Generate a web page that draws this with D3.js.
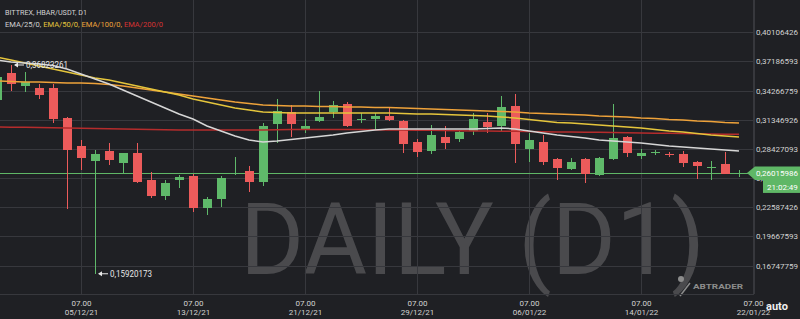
<!DOCTYPE html>
<html><head><meta charset="utf-8">
<script src="https://cdn.jsdelivr.net/npm/d3@7"></script>
<style>
html,body{margin:0;padding:0;background:#1f2024;overflow:hidden;}
svg{display:block;font-family:Roboto,"Noto Sans",sans-serif;}
</style></head><body>
<svg id="c" width="800" height="319"></svg>
<script>
const dates = ["2021-11-29","2021-11-30","2021-12-01","2021-12-02","2021-12-03","2021-12-04","2021-12-05","2021-12-06","2021-12-07","2021-12-08","2021-12-09","2021-12-10","2021-12-11","2021-12-12","2021-12-13","2021-12-14","2021-12-15","2021-12-16","2021-12-17","2021-12-18","2021-12-19","2021-12-20","2021-12-21","2021-12-22","2021-12-23","2021-12-24","2021-12-25","2021-12-26","2021-12-27","2021-12-28","2021-12-29","2021-12-30","2021-12-31","2022-01-01","2022-01-02","2022-01-03","2022-01-04","2022-01-05","2022-01-06","2022-01-07","2022-01-08","2022-01-09","2022-01-10","2022-01-11","2022-01-12","2022-01-13","2022-01-14","2022-01-15","2022-01-16","2022-01-17","2022-01-18","2022-01-19","2022-01-20","2022-01-21"];
const opens = [0.3332,0.3602,0.3472,0.3452,0.3452,0.3152,0.2872,0.2721,0.2821,0.2701,0.2801,0.2531,0.2371,0.2531,0.2571,0.2251,0.2341,0.2591,0.2621,0.2511,0.3092,0.3212,0.3042,0.3122,0.3212,0.3292,0.3137,0.3142,0.3172,0.3122,0.2912,0.2821,0.2962,0.2942,0.3022,0.3112,0.3072,0.3272,0.2842,0.2912,0.2741,0.2641,0.2741,0.2581,0.2741,0.2962,0.2771,0.2806,0.2796,0.2791,0.2711,0.2656,0.2691,0.2596];
const highs = [0.3592,0.36823261,0.3612,0.3492,0.3492,0.3162,0.2932,0.2831,0.2902,0.2801,0.2902,0.2611,0.2531,0.2581,0.2591,0.2361,0.2571,0.2761,0.2671,0.3102,0.3342,0.3282,0.3142,0.3422,0.3322,0.3312,0.3202,0.3202,0.3252,0.3132,0.2942,0.3082,0.3072,0.3032,0.3202,0.3202,0.3372,0.3392,0.3002,0.2982,0.2751,0.2751,0.2751,0.2761,0.3292,0.2972,0.2842,0.2831,0.2811,0.2821,0.2721,0.2721,0.2811,0.2631];
const lows = [0.3312,0.3422,0.3412,0.3342,0.3102,0.2241,0.2631,0.15920173,0.2681,0.2601,0.2501,0.2351,0.2331,0.2451,0.2211,0.2181,0.2261,0.2581,0.2411,0.2471,0.2902,0.2962,0.3002,0.3112,0.3152,0.3062,0.3102,0.3032,0.3122,0.2801,0.2761,0.2791,0.2841,0.2912,0.2982,0.3002,0.3022,0.2701,0.2711,0.2681,0.2531,0.2631,0.2501,0.2571,0.2731,0.2761,0.2741,0.2781,0.2761,0.2661,0.2541,0.2531,0.2591,0.2561];
const closes = [0.3562,0.3492,0.3512,0.3382,0.3142,0.2831,0.2751,0.2791,0.2731,0.2801,0.2511,0.2371,0.2501,0.2561,0.2251,0.2341,0.2551,0.2601,0.2511,0.3072,0.3222,0.3092,0.3072,0.3162,0.3282,0.3072,0.3142,0.3172,0.3132,0.2892,0.2811,0.2982,0.2902,0.3012,0.3142,0.3062,0.3262,0.2892,0.2932,0.2711,0.2651,0.2711,0.2591,0.2751,0.2952,0.2801,0.2801,0.2811,0.2786,0.2701,0.2671,0.2661,0.2591,0.26015986];
const ema25 = [0.3732,0.3712,0.3702,0.3692,0.3677,0.3642,0.3592,0.3542,0.3492,0.3432,0.3372,0.3312,0.3252,0.3192,0.3142,0.3072,0.3022,0.2972,0.2932,0.2912,0.2922,0.2937,0.2952,0.2967,0.2982,0.3002,0.3017,0.3032,0.3042,0.3042,0.3042,0.3042,0.3042,0.3042,0.3042,0.3047,0.3052,0.3042,0.3022,0.3002,0.2982,0.2967,0.2952,0.2932,0.2922,0.2912,0.2902,0.2887,0.2872,0.2862,0.2852,0.2842,0.2832,0.2822];
const ema50 = [0.3762,0.3732,0.3702,0.3672,0.3642,0.3612,0.3582,0.3552,0.3532,0.3502,0.3472,0.3442,0.3412,0.3382,0.3342,0.3312,0.3282,0.3252,0.3232,0.3212,0.3207,0.3202,0.3202,0.3202,0.3202,0.3202,0.3202,0.3202,0.3202,0.3197,0.3192,0.3192,0.3187,0.3182,0.3177,0.3172,0.3162,0.3152,0.3137,0.3122,0.3107,0.3102,0.3092,0.3082,0.3072,0.3062,0.3052,0.3037,0.3022,0.3012,0.2997,0.2982,0.2972,0.2962];
const ema100 = [0.3522,0.3517,0.3512,0.3512,0.3507,0.3502,0.3502,0.3497,0.3487,0.3472,0.3452,0.3432,0.3412,0.3392,0.3372,0.3352,0.3332,0.3312,0.3297,0.3282,0.3277,0.3272,0.3272,0.3267,0.3267,0.3262,0.3262,0.3257,0.3257,0.3252,0.3247,0.3242,0.3237,0.3232,0.3227,0.3222,0.3217,0.3212,0.3202,0.3197,0.3192,0.3187,0.3182,0.3172,0.3167,0.3162,0.3152,0.3147,0.3137,0.3132,0.3122,0.3117,0.3107,0.3102];
const ema200 = [0.3062,0.3060,0.3058,0.3056,0.3054,0.3052,0.3049,0.3047,0.3044,0.3042,0.3039,0.3037,0.3035,0.3032,0.3032,0.3032,0.3032,0.3032,0.3032,0.3032,0.3034,0.3036,0.3037,0.3037,0.3037,0.3037,0.3037,0.3035,0.3032,0.3032,0.3030,0.3028,0.3026,0.3024,0.3022,0.3022,0.3020,0.3018,0.3016,0.3014,0.3012,0.3012,0.3010,0.3008,0.3006,0.3004,0.3002,0.3000,0.2998,0.2996,0.2994,0.2992,0.2990,0.2988];
const yTicks = [0.40106426,0.37186593,0.34266759,0.31346926,0.28427093,0.25507260,0.22587426,0.19667593,0.16747759];
const xTicks = ["2021-12-05","2021-12-13","2021-12-21","2021-12-29","2022-01-06","2022-01-14","2022-01-22"];
const titleText = "BITTREX, HBAR/USDT, D1";
const emaLabels = ["EMA/25/0","EMA/50/0","EMA/100/0","EMA/200/0"];
const watermarkText = "DAILY (D1)";
const countdownText = "21:02:49";
const brandText = "ABTRADER";
const autoText = "auto";

const svg = d3.select("#c");
const W = 800, H = 319, plotR = 754, plotB = 294;
const C = {bg:"#1f2024", grid:"#37383d", text:"#d2d2d2", up:"#5fb96a", down:"#ec5b5b",
  e25:"#d6d6d6", e50:"#e5c53c", e100:"#eea23a", e200:"#b52c2c", e200t:"#d63333", price:"#5fb766"};
const emaLabelColors = [C.text, C.e50, C.e100, C.e200t];

const parse = s => new Date(s + "T07:00:00Z");
const x = d3.scaleTime().domain([parse(dates[0]), parse(xTicks[xTicks.length-1])]).range([-3, 753]);
const y = d3.scaleLinear().domain([yTicks[yTicks.length-1], yTicks[0]]).range([265.5, 32.2]);
const fmtPrice = v => d3.format(".8f")(v).replace(".", ",");

svg.append("rect").attr("width", W).attr("height", H).attr("fill", C.bg);

// watermark
svg.append("text").attr("x", 240).attr("y", 274).attr("font-size", 101).attr("font-weight", 400)
  .attr("fill", "#4a4a4d").attr("textLength", 465).attr("lengthAdjust", "spacingAndGlyphs").text(watermarkText);

// brand
const bg = svg.append("g").attr("fill", "#8c8c8c");
bg.append("circle").attr("cx", 681).attr("cy", 279).attr("r", 3);
bg.append("line").attr("x1", 680).attr("y1", 296).attr("x2", 690).attr("y2", 283).attr("stroke", "#8c8c8c").attr("stroke-width", 1.5);
bg.append("text").attr("x", 693).attr("y", 289).attr("font-size", 8).attr("font-weight", 700).attr("textLength", 50).attr("lengthAdjust", "spacingAndGlyphs").text(brandText);

// grid
const grid = svg.append("g").attr("stroke", C.grid).attr("stroke-width", 1).attr("shape-rendering", "crispEdges");
grid.selectAll(".h").data(yTicks).join("line").attr("x1", 0).attr("x2", plotR)
  .attr("y1", d => Math.round(y(d)) + 0.5).attr("y2", d => Math.round(y(d)) + 0.5);
grid.selectAll(".v").data(xTicks.map(parse)).join("line").attr("y1", 0).attr("y2", plotB)
  .attr("x1", d => Math.round(x(d)) + 0.5).attr("x2", d => Math.round(x(d)) + 0.5);
grid.append("line").attr("x1", plotR + 0.5).attr("x2", plotR + 0.5).attr("y1", 0).attr("y2", plotB);
grid.append("line").attr("x1", 0).attr("x2", plotR).attr("y1", plotB + 0.5).attr("y2", plotB + 0.5);

// plot clip
svg.append("clipPath").attr("id", "clip").append("rect").attr("x", 0).attr("y", 0).attr("width", plotR).attr("height", plotB);
const plot = svg.append("g").attr("clip-path", "url(#clip)");

const idx = d3.range(dates.length);
const lastClose = closes[closes.length-1];
// price line
plot.append("line").attr("x1", 0).attr("x2", plotR)
  .attr("y1", Math.round(y(lastClose)) + 0.5).attr("y2", Math.round(y(lastClose)) + 0.5)
  .attr("stroke", C.price).attr("stroke-width", 1).attr("shape-rendering", "crispEdges");

// candles
const bw = 9;
const cg = plot.append("g").attr("shape-rendering", "crispEdges");
const col = i => closes[i] >= opens[i] ? C.up : C.down;
cg.selectAll(".w").data(idx).join("line")
  .attr("x1", i => Math.round(x(parse(dates[i]))) + 0.5).attr("x2", i => Math.round(x(parse(dates[i]))) + 0.5)
  .attr("y1", i => y(highs[i])).attr("y2", i => y(lows[i])).attr("stroke", col);
cg.selectAll(".b").data(idx).join("rect")
  .attr("x", i => Math.round(x(parse(dates[i]))) - 4)
  .attr("width", bw)
  .attr("y", i => Math.min(y(opens[i]), y(closes[i])))
  .attr("height", i => Math.max(1, Math.abs(y(opens[i]) - y(closes[i]))))
  .attr("fill", col);

// EMAs
const emas = [ema200, ema100, ema50, ema25];
const emaCols = [C.e200, C.e100, C.e50, C.e25];
emas.forEach((arr, k) => {
  plot.append("path").datum(idx)
    .attr("d", d3.line().x(i => x(parse(dates[i]))).y(i => y(arr[i])))
    .attr("fill", "none").attr("stroke", emaCols[k]).attr("stroke-width", 1.5);
});

// high / low markers
function marker(i, v) {
  const px = x(parse(dates[i])) + 3, py = y(v);
  const g = svg.append("g");
  g.append("line").attr("x1", px + 1).attr("x2", px + 10).attr("y1", py).attr("y2", py).attr("stroke", "#e8e8e8").attr("stroke-width", 1);
  g.append("path").attr("d", `M${px},${py}L${px+4},${py-2.5}L${px+4},${py+2.5}Z`).attr("fill", "#e8e8e8");
  g.append("text").attr("x", px + 12).attr("y", py + 3.3).attr("font-size", 9).attr("fill", "#e8e8e8")
    .attr("textLength", 42).attr("lengthAdjust", "spacingAndGlyphs").text(fmtPrice(v));
}
const hiIdx = d3.maxIndex(highs), loIdx = d3.minIndex(lows);
marker(hiIdx, highs[hiIdx]);
marker(loIdx, lows[loIdx]);

// right axis
const ya = d3.axisRight(y).tickValues(yTicks).tickSize(0).tickPadding(2).tickFormat(fmtPrice);
const gy = svg.append("g").attr("transform", `translate(${plotR},0)`).call(ya);
gy.select(".domain").remove();
gy.selectAll("text").attr("font-size", 8).attr("font-family", "Roboto").attr("fill", C.text);

// bottom axis
const xa = d3.axisBottom(x).tickValues(xTicks.map(parse)).tickSize(0).tickFormat("");
const gx = svg.append("g").attr("transform", `translate(0,${plotB})`).call(xa);
gx.select(".domain").remove();
gx.selectAll(".tick text").attr("dy", null).attr("y", null).attr("font-size", 8).attr("font-family", "Roboto").attr("fill", C.text)
  .each(function(d) {
    const t = d3.select(this);
    t.append("tspan").attr("x", 0).attr("y", 12).text(d3.utcFormat("%H.%M")(d));
    t.append("tspan").attr("x", 0).attr("y", 21).text(d3.utcFormat("%d/%m/%y")(d));
  });

// auto
svg.append("text").attr("x", 766).attr("y", 310).attr("font-size", 11).attr("font-weight", 700).attr("fill", "#f0f0f0").text(autoText);

// current price label
const lastY = y(lastClose);
const pl = svg.append("g");
pl.append("path").attr("d", `M747,${lastY}L755,${lastY-6.5}L800,${lastY-6.5}L800,${lastY+7}L755,${lastY+7}Z`).attr("fill", C.price);
pl.append("text").attr("x", 756).attr("y", lastY + 3).attr("font-size", 8).attr("fill", "#ffffff").text(fmtPrice(lastClose));
pl.append("rect").attr("x", 763).attr("y", lastY + 7).attr("width", 37).attr("height", 13).attr("fill", C.price);
pl.append("text").attr("x", 767).attr("y", lastY + 17).attr("font-size", 8).attr("fill", "#ffffff").text(countdownText);

// legend
svg.append("text").attr("x", 5).attr("y", 15).attr("font-size", 8).attr("fill", C.text)
  .attr("textLength", 82).attr("lengthAdjust", "spacingAndGlyphs").text(titleText);
const lg = svg.append("text").attr("x", 5).attr("y", 27).attr("font-size", 8)
  .attr("textLength", 158).attr("lengthAdjust", "spacingAndGlyphs");
emaLabels.forEach((s, k) => {
  lg.append("tspan").attr("fill", emaLabelColors[k]).text(s + (k < emaLabels.length - 1 ? ", " : ""));
});
</script></body></html>
